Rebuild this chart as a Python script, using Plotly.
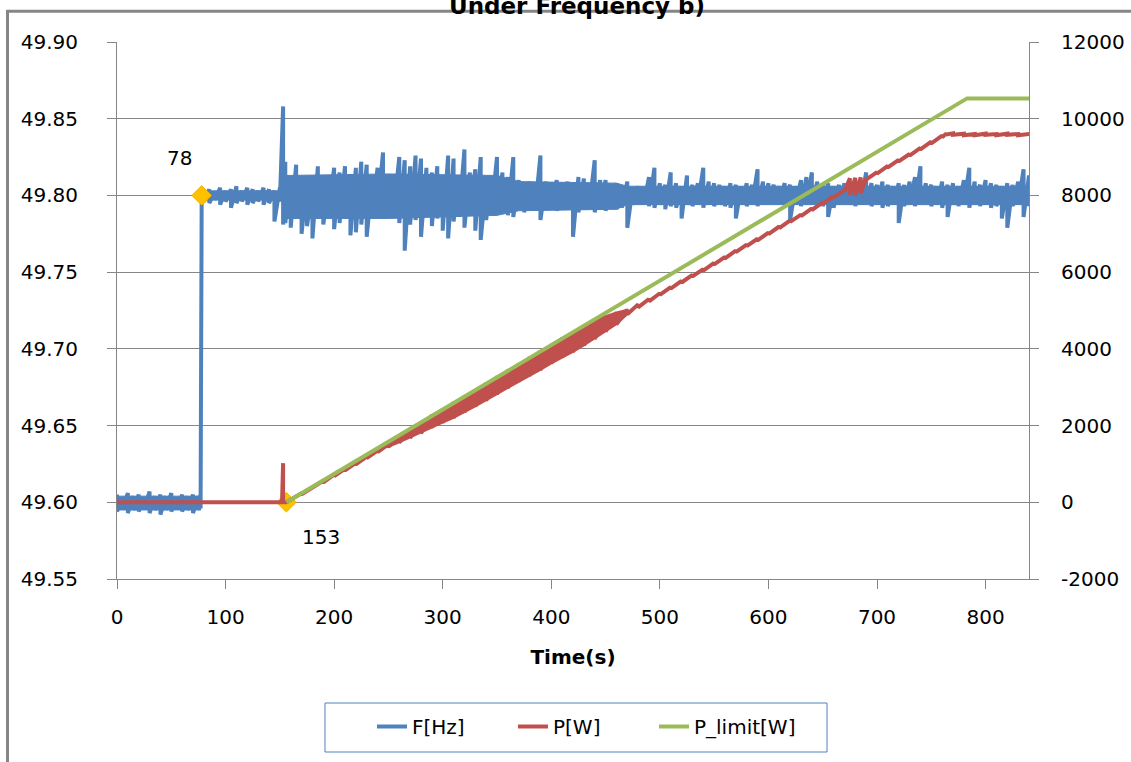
import plotly.graph_objects as go

# ---------------- data ----------------
# Frequency F[Hz]: sample times and upper/lower envelope of the noisy trace
f_time = ([0, 5, 10, 15, 20, 25, 30, 35, 40, 45, 50, 55, 60, 65, 70, 75, 77, 78]
          + [80, 85, 90, 95, 100, 105, 110, 115, 120, 125, 130, 135, 140, 145, 150, 153]
          + list(range(155, 841, 5)))
f_hi = [49.605, 49.603, 49.606, 49.604, 49.605, 49.603, 49.607, 49.604, 49.605, 49.604,
        49.606, 49.603, 49.605, 49.604, 49.605, 49.604, 49.605, 49.802,
        49.803, 49.804, 49.802, 49.805, 49.803, 49.804, 49.806, 49.803, 49.805, 49.804,
        49.803, 49.805, 49.804, 49.803, 49.805, 49.858,
        49.822, 49.812, 49.820, 49.806, 49.809, 49.804, 49.819, 49.812, 49.808, 49.818,
        49.815, 49.819, 49.813, 49.818, 49.822, 49.820, 49.810, 49.818, 49.828, 49.808,
        49.812, 49.825, 49.823, 49.819, 49.826, 49.824, 49.818, 49.815, 49.819, 49.813,
        49.826, 49.824, 49.812, 49.830, 49.815, 49.817, 49.825, 49.808, 49.812, 49.825,
        49.815, 49.812, 49.825, 49.810, 49.807, 49.809, 49.806, 49.826, 49.809, 49.808,
        49.810, 49.807, 49.809, 49.806, 49.812, 49.811, 49.808, 49.823, 49.810, 49.810,
        49.807, 49.808, 49.806, 49.809, 49.805, 49.806, 49.805, 49.812, 49.818, 49.808,
        49.807, 49.815, 49.808, 49.806, 49.813, 49.807, 49.808, 49.818, 49.809, 49.808,
        49.807, 49.806, 49.808, 49.807, 49.806, 49.808, 49.807, 49.817, 49.809, 49.808,
        49.807, 49.806, 49.808, 49.807, 49.806, 49.810, 49.812, 49.815, 49.809, 49.807,
        49.808, 49.806, 49.807, 49.808, 49.806, 49.807, 49.810, 49.815, 49.808, 49.807,
        49.809, 49.807, 49.806, 49.808, 49.807, 49.809, 49.812, 49.819, 49.808, 49.807,
        49.806, 49.809, 49.807, 49.808, 49.806, 49.810, 49.818, 49.809, 49.807, 49.810,
        49.808, 49.807, 49.806, 49.808, 49.807, 49.809, 49.817, 49.813]
f_lo = [49.594, 49.596, 49.593, 49.595, 49.594, 49.596, 49.593, 49.595, 49.592, 49.595,
        49.594, 49.596, 49.594, 49.595, 49.593, 49.595, 49.596, 49.797,
        49.796, 49.795, 49.797, 49.794, 49.796, 49.792, 49.795, 49.796, 49.794, 49.795,
        49.796, 49.794, 49.795, 49.783, 49.796, 49.781,
        49.782, 49.779, 49.786, 49.775, 49.780, 49.772, 49.785, 49.781, 49.790, 49.778,
        49.782, 49.786, 49.774, 49.776, 49.781, 49.773, 49.788, 49.790, 49.787, 49.789,
        49.790, 49.782, 49.764, 49.781, 49.784, 49.773, 49.787, 49.780, 49.785, 49.777,
        49.772, 49.783, 49.786, 49.779, 49.788, 49.777, 49.771, 49.784, 49.790, 49.788,
        49.791, 49.787, 49.786, 49.791, 49.789, 49.792, 49.790, 49.784, 49.791, 49.793,
        49.790, 49.792, 49.793, 49.773, 49.789, 49.791, 49.793, 49.789, 49.792, 49.790,
        49.793, 49.791, 49.792, 49.779, 49.794, 49.795, 49.794, 49.793, 49.792, 49.794,
        49.791, 49.793, 49.792, 49.785, 49.794, 49.793, 49.795, 49.792, 49.794, 49.793,
        49.794, 49.793, 49.792, 49.785, 49.794, 49.793, 49.795, 49.793, 49.794, 49.796,
        49.797, 49.796, 49.797, 49.784, 49.795, 49.793, 49.794, 49.795, 49.794, 49.793,
        49.786, 49.792, 49.794, 49.795, 49.794, 49.793, 49.794, 49.795, 49.793, 49.794,
        49.792, 49.793, 49.794, 49.782, 49.793, 49.794, 49.793, 49.794, 49.795, 49.793,
        49.794, 49.792, 49.786, 49.794, 49.793, 49.794, 49.792, 49.795, 49.793, 49.794,
        49.792, 49.793, 49.785, 49.779, 49.793, 49.794, 49.786, 49.793]

# Solid core of the frequency band (segments separated by None)
core_time = [0, 77, None, 78, 152, None, 155, 250, 350, 370, 460, 470, 840]
core_hi = [49.604, 49.604, None, 49.803, 49.803, None, 49.813, 49.814, 49.813, 49.809, 49.808, 49.806, 49.806]
core_lo = [49.595, 49.595, None, 49.797, 49.797, None, 49.785, 49.785, 49.787, 49.790, 49.791, 49.794, 49.794]

# Power P[W]: sample times and upper/lower envelope
p_time = [0, 152, 153, 156, 160, 170, 180, 190, 200, 210, 220, 230, 240, 250, 260, 270,
          280, 290, 300, 310, 320, 330, 340, 350, 360, 370, 380, 390, 400, 410, 420, 430,
          440, 450, 460, 470, 480, 490, 500, 510, 520, 530, 540, 550, 560, 570, 580, 590,
          600, 610, 620, 630, 640, 650, 660, 670, 675, 680, 685, 690, 700, 710, 720, 730,
          740, 750, 760, 764, 770, 780, 790, 800, 810, 820, 830, 840]
p_hi = [0, 0, 1020, 0, 70, 235, 395, 560, 720, 870, 1030, 1190, 1350, 1510, 1700, 1900,
        2080, 2270, 2420, 2600, 2760, 2930, 3100, 3280, 3440, 3600, 3780, 3940, 4110, 4280, 4430, 4580,
        4720, 4850, 4950, 5020, 5160, 5300, 5450, 5610, 5770, 5930, 6080, 6240, 6400, 6560, 6720, 6870,
        7030, 7190, 7350, 7500, 7660, 7820, 7980, 8140, 8450, 8460, 8470, 8450, 8610, 8770, 8930, 9080,
        9240, 9400, 9560, 9610, 9620, 9610, 9600, 9610, 9600, 9610, 9600, 9600]
p_lo = [0, 0, 0, 0, 50, 205, 365, 520, 680, 830, 990, 1150, 1310, 1450, 1560, 1680,
        1800, 1950, 2080, 2200, 2350, 2500, 2650, 2820, 2980, 3150, 3300, 3450, 3620, 3780, 3920, 4090,
        4260, 4450, 4640, 4900, 5080, 5240, 5410, 5570, 5730, 5890, 6040, 6200, 6360, 6520, 6680, 6830,
        6990, 7150, 7310, 7460, 7620, 7780, 7940, 8100, 8020, 8000, 8060, 8410, 8570, 8730, 8890, 9040,
        9200, 9360, 9520, 9590, 9580, 9570, 9570, 9580, 9570, 9580, 9570, 9570]

# Power limit P_limit[W]
lim_time = [156, 783, 840]
lim_val = [0, 10530, 10530]

# Highlighted points
mark_time = [78, 156]
mark_freq = [49.80, 49.60]
mark_label = ["78", "153"]

x_ticks = [0, 100, 200, 300, 400, 500, 600, 700, 800]
y1_ticks = [49.55, 49.60, 49.65, 49.70, 49.75, 49.80, 49.85, 49.90]
y2_ticks = [-2000, 0, 2000, 4000, 6000, 8000, 10000, 12000]

# ---------------- styling ----------------
BLUE = "#4F81BD"
RED = "#C0504D"
GREEN = "#9BBB59"
GOLD = "#FFC000"
GRID = "#868686"
FONT = "DejaVu Sans"


def zigzag(t, hi, lo):
    xs, ys = [], []
    for a, b, c in zip(t, hi, lo):
        xs += [a, a]
        ys += [b, c]
    return xs, ys


def band(t, hi, lo):
    """closed polygons between hi and lo, segments split at None"""
    xs, ys = [], []
    seg_t, seg_h, seg_l = [], [], []
    for a, b, c in list(zip(t, hi, lo)) + [(None, None, None)]:
        if a is None:
            if seg_t:
                xs += seg_t + seg_t[::-1] + [seg_t[0], None]
                ys += seg_h + seg_l[::-1] + [seg_h[0], None]
            seg_t, seg_h, seg_l = [], [], []
        else:
            seg_t.append(a)
            seg_h.append(b)
            seg_l.append(c)
    return xs, ys


fx, fy = zigzag(f_time, f_hi, f_lo)
cx, cy = band(core_time, core_hi, core_lo)
px_, py_ = zigzag(p_time, p_hi, p_lo)
noisy = [(a, b, c) for a, b, c in zip(p_time, p_hi, p_lo) if 250 <= a <= 470]
pbx, pby = band([n[0] for n in noisy], [n[1] for n in noisy], [n[2] for n in noisy])

fig = go.Figure()
fig.add_trace(go.Scatter(x=cx, y=cy, mode="lines", fill="toself", fillcolor=BLUE,
                         line=dict(color=BLUE, width=1), showlegend=False, hoverinfo="skip",
                         yaxis="y"))
fig.add_trace(go.Scatter(x=fx, y=fy, mode="lines", name="F[Hz]",
                         line=dict(color=BLUE, width=4), yaxis="y"))
fig.add_trace(go.Scatter(x=pbx, y=pby, mode="lines", fill="toself", fillcolor=RED,
                         line=dict(color=RED, width=2), showlegend=False, hoverinfo="skip",
                         yaxis="y2"))
fig.add_trace(go.Scatter(x=px_, y=py_, mode="lines", name="P[W]",
                         line=dict(color=RED, width=4), yaxis="y2"))
fig.add_trace(go.Scatter(x=lim_time, y=lim_val, mode="lines", name="P_limit[W]",
                         line=dict(color=GREEN, width=4), yaxis="y2"))
fig.add_trace(go.Scatter(x=mark_time, y=mark_freq, mode="markers", showlegend=False,
                         marker=dict(symbol="diamond", size=15, color=GOLD,
                                     line=dict(color="#E8B000", width=1)),
                         yaxis="y"))

shifts = [(-22, 37), (35, -35)]
for t, f, lab, (dx, dy) in zip(mark_time, mark_freq, mark_label, shifts):
    fig.add_annotation(x=t, y=f, xref="x", yref="y", text=lab, showarrow=False,
                       xshift=dx, yshift=dy, font=dict(family=FONT, size=20, color="#000000"))

L, R, T, B = 117, 102, 42, 183
W, H = 1131, 762
pw, ph = W - L - R, H - T - B


def px2paper_x(p):
    return (p - L) / pw


def py2paper_y(p):
    return (H - B - p) / ph


# outer chart border (partly off-canvas)
fig.add_shape(type="rect", xref="paper", yref="paper",
              x0=px2paper_x(7.5), y0=py2paper_y(900), x1=px2paper_x(1300), y1=py2paper_y(11.3),
              line=dict(color=GRID, width=3), fillcolor="rgba(0,0,0,0)", layer="below")
# legend frame
fig.add_shape(type="rect", xref="paper", yref="paper",
              x0=px2paper_x(325), y0=py2paper_y(752), x1=px2paper_x(827), y1=py2paper_y(703),
              line=dict(color=BLUE, width=1), fillcolor="white", layer="below")

fig.update_layout(
    width=W, height=H,
    margin=dict(l=L, r=R, t=T, b=B, pad=0, autoexpand=False),
    paper_bgcolor="white", plot_bgcolor="white",
    font=dict(family=FONT, size=20, color="#000000"),
    title=dict(text="<b>Under Frequency b)</b>", x=px2paper_x(577), xanchor="center",
               xref="paper", yref="paper", y=1, yanchor="bottom", pad=dict(b=28),
               font=dict(family=FONT, size=23, color="#000000")),
    xaxis=dict(range=[0, 840], tickvals=x_ticks, showgrid=False, showline=True,
               linecolor=GRID, linewidth=1, ticks="outside", ticklen=9, tickcolor=GRID,
               zeroline=False, ticklabelstandoff=11, automargin=False,
               title=dict(text="<b>Time(s)</b>", standoff=21,
                          font=dict(family=FONT, size=20, color="#000000"))),
    yaxis=dict(range=[49.55, 49.90], tickvals=y1_ticks, tickformat=".2f", showgrid=True,
               gridcolor=GRID, gridwidth=1, showline=True, linecolor=GRID, linewidth=1,
               ticks="outside", ticklen=9, tickcolor=GRID, zeroline=False,
               ticklabelstandoff=25, automargin=False),
    yaxis2=dict(range=[-2000, 12000], tickvals=y2_ticks, ticktext=[str(v) for v in y2_ticks],
                overlaying="y", side="right",
                showgrid=False, showline=True, linecolor=GRID, linewidth=1,
                ticks="outside", ticklen=9, tickcolor=GRID, zeroline=False,
                ticklabelstandoff=18, automargin=False),
    legend=dict(orientation="h", x=px2paper_x(372), y=py2paper_y(707), xanchor="left",
                yanchor="top", borderwidth=0, bgcolor="rgba(0,0,0,0)",
                entrywidth=96, font=dict(family=FONT, size=20, color="#000000")),
)

fig.write_html("out.html", config={"displayModeBar": False},
               post_script="document.body.style.margin='0';")
